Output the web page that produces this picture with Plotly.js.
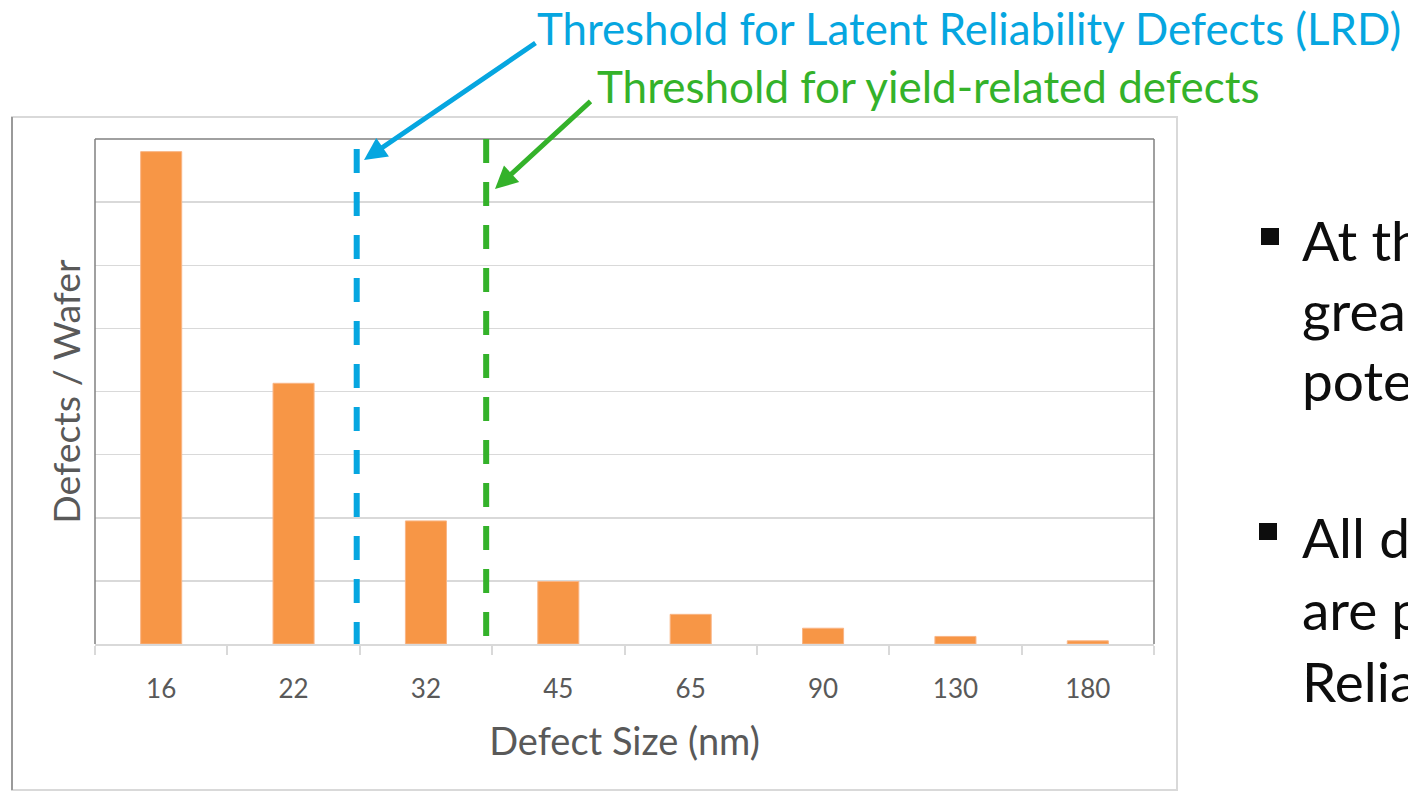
<!DOCTYPE html>
<html>
<head>
<meta charset="utf-8">
<script src="https://cdn.plot.ly/plotly-3.0.1.min.js"></script>
<style>
html,body{margin:0;padding:0;background:#fff;overflow:hidden;}
#chart{width:1408px;height:792px;}
</style>
</head>
<body>
<div id="chart"></div>
<script>
// ---- data ----
const sizes = ["16", "22", "32", "45", "65", "90", "130", "180"];
const defectsPerWafer = [7.80, 4.13, 1.95, 0.99, 0.47, 0.25, 0.12, 0.05];
// threshold positions on the category axis (index units) and their top values
const thresholdPos = [1.477, 2.455];
const thresholdTop = [7.84, 8.0];
const thresholdLabels = ["Threshold for Latent Reliability Defects (LRD)", "Threshold for yield-related defects"];
const bulletLines = [["At th", "grea", "pote"], ["All d", "are p", "Relia"]];

const FONT = "Lato, 'Open Sans', sans-serif";
const BLUE = "#06A6E0";
const GREEN = "#34B22A";
const GRAY = "#595959";

// plot-area pixel geometry
const L = 95, R = 1154, T = 139, B = 644;
const PW = R - L, PH = B - T;
const px = x => (x - L) / PW;
const py = y => (B - y) / PH;

const trace = {
  type: "bar",
  x: sizes,
  y: defectsPerWafer,
  marker: {color: "#F79646", line: {color: "#F9B585", width: 1}},
  hoverinfo: "x+y"
};

const shapes = [];
// outer chart frame
shapes.push({type: "rect", xref: "paper", yref: "paper", x0: px(12), x1: px(1177), y0: py(790), y1: py(117),
  line: {color: "#D9D9D9", width: 2}, layer: "below"});
shapes.push({type: "line", xref: "paper", yref: "paper", x0: px(12), x1: px(12), y0: py(790), y1: py(117),
  line: {color: "#9A9A9A", width: 2}});
// plot area border (left, top, right)
shapes.push({type: "line", xref: "paper", yref: "paper", x0: 0, x1: 0, y0: 0, y1: 1, line: {color: "#808080", width: 1.5}});
shapes.push({type: "line", xref: "paper", yref: "paper", x0: 0, x1: 1, y0: 1, y1: 1, line: {color: "#808080", width: 1.5}});
shapes.push({type: "line", xref: "paper", yref: "paper", x0: 1, x1: 1, y0: 0, y1: 1, line: {color: "#808080", width: 1.5}});
// threshold dashed lines
const thrColors = [BLUE, GREEN];
thresholdPos.forEach((p, i) => {
  shapes.push({type: "line", xref: "x", yref: "y", x0: p, x1: p, y0: thresholdTop[i], y1: 0,
    line: {color: thrColors[i], width: 6, dash: "24px,19px"}});
});
// bullets
[[1261, 228], [1259, 523]].forEach(([xb, yb]) => {
  shapes.push({type: "rect", xref: "paper", yref: "paper", x0: px(xb), x1: px(xb + 18), y0: py(yb + 17), y1: py(yb),
    fillcolor: "#0D0D0D", line: {width: 0}});
});

const annotations = [];
// arrows
annotations.push({xref: "paper", yref: "paper", x: px(364), y: py(160), ax: 537 - 364, ay: 42 - 160,
  axref: "pixel", ayref: "pixel", text: "", showarrow: true, arrowhead: 2, arrowsize: 0.9, arrowwidth: 5, arrowcolor: BLUE});
annotations.push({xref: "paper", yref: "paper", x: px(495), y: py(189), ax: 592 - 495, ay: 100 - 189,
  axref: "pixel", ayref: "pixel", text: "", showarrow: true, arrowhead: 2, arrowsize: 0.9, arrowwidth: 5, arrowcolor: GREEN});
// threshold labels
annotations.push({xref: "paper", yref: "paper", x: px(535), y: py(28), xanchor: "left", yanchor: "middle",
  text: thresholdLabels[0], showarrow: false, font: {family: FONT, size: 43.8, color: BLUE}});
annotations.push({xref: "paper", yref: "paper", x: px(595), y: py(86), xanchor: "left", yanchor: "middle",
  text: thresholdLabels[1], showarrow: false, font: {family: FONT, size: 44, color: GREEN}});
// right-side bullet text (cropped by page edge, as in the source slide)
const lineY = [[240, 310, 380], [537, 609, 681]];
bulletLines.forEach((grp, g) => {
  grp.forEach((t, k) => {
    annotations.push({xref: "paper", yref: "paper", x: px(1300), y: py(lineY[g][k]), xanchor: "left", yanchor: "middle",
      text: t, showarrow: false, font: {family: FONT, size: 55, color: "#0D0D0D"}});
  });
});

const layout = {
  width: 1408, height: 792,
  margin: {l: L, r: 1408 - R, t: T, b: 792 - B, pad: 0},
  paper_bgcolor: "#FFFFFF",
  plot_bgcolor: "#FFFFFF",
  showlegend: false,
  bargap: 0.69,
  xaxis: {
    type: "category",
    range: [-0.5, 7.5],
    showline: true, linecolor: "#D9D9D9", linewidth: 2,
    ticks: "outside", tickson: "boundaries", ticklen: 9, tickcolor: "#D9D9D9", tickwidth: 2,
    tickfont: {family: FONT, size: 26, color: GRAY},
    ticklabelstandoff: 21,
    showgrid: false, zeroline: false,
    title: {text: "Defect Size (nm)", font: {family: FONT, size: 38, color: GRAY}, standoff: 25}
  },
  yaxis: {
    range: [0, 8], dtick: 1,
    showgrid: true, gridcolor: "#D9D9D9", gridwidth: 1.5,
    zeroline: false, showline: false, showticklabels: false, ticks: "",
    title: {text: "Defects / Wafer", font: {family: FONT, size: 37.5, color: GRAY}, standoff: 1}
  },
  shapes: shapes,
  annotations: annotations
};

Plotly.newPlot("chart", [trace], layout, {displayModeBar: false, staticPlot: true});
</script>
</body>
</html>
